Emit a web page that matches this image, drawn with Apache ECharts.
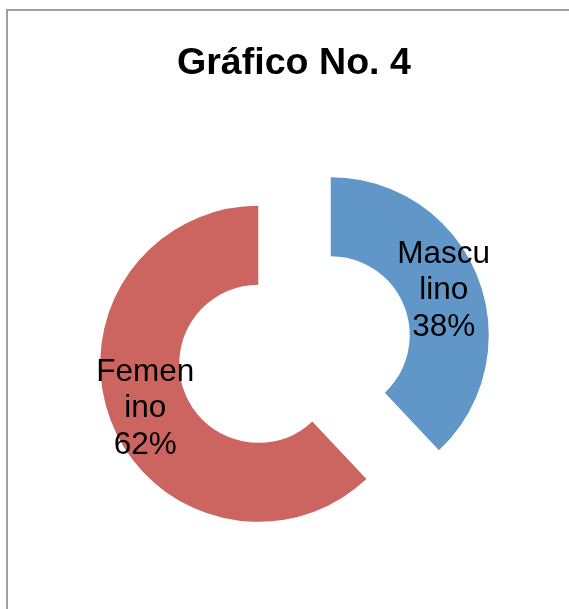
<!DOCTYPE html>
<html>
<head>
<meta charset="utf-8">
<script src="https://cdn.jsdelivr.net/npm/echarts@6/dist/echarts.min.js"></script>
<style>
    html, body { margin: 0; padding: 0; background: #fff; }
    #main { width: 569px; height: 609px; }
</style>
</head>
<body>
<div id="main"></div>
<script>
// datos del gráfico
var categorias = ['Masculino', 'Femenino'];
var valores = [38, 62];
var colores = ['#6096C8', '#CC655F'];

var pieData = categorias.map(function (c, i) {
    return { name: c, value: valores[i], selected: true, itemStyle: { color: colores[i] } };
});

var myChart = echarts.init(document.getElementById('main'));
myChart.setOption({
    animation: false,
    title: {
        text: 'Gráfico No. 4',
        left: 172,
        top: 40,
        textStyle: {
            fontFamily: 'Liberation Sans, Arial, sans-serif',
            fontSize: 37.6,
            fontWeight: 'bold',
            color: '#000'
        }
    },
    graphic: [{
        type: 'rect',
        silent: true,
        shape: { x: 7, y: 10, width: 800, height: 800 },
        style: { fill: 'none', stroke: '#a0a0a0', lineWidth: 2 }
    }],
    series: [{
        type: 'pie',
        center: [294.5, 349.5],
        radius: [79, 158],
        startAngle: 90,
        clockwise: true,
        selectedMode: 'multiple',
        selectedOffset: 39,
        emphasis: { scale: false },
        select: { itemStyle: { borderWidth: 0 } },
        label: {
            show: true,
            position: 'inside',
            formatter: '{b}\n{d}%',
            fontFamily: 'Liberation Sans, Arial, sans-serif',
            fontSize: 31.5,
            lineHeight: 36.5,
            color: '#000',
            width: 99,
            overflow: 'breakAll',
            align: 'center',
            offset: [0, 4]
        },
        labelLine: { show: false },
        data: pieData
    }]
});
</script>
</body>
</html>
